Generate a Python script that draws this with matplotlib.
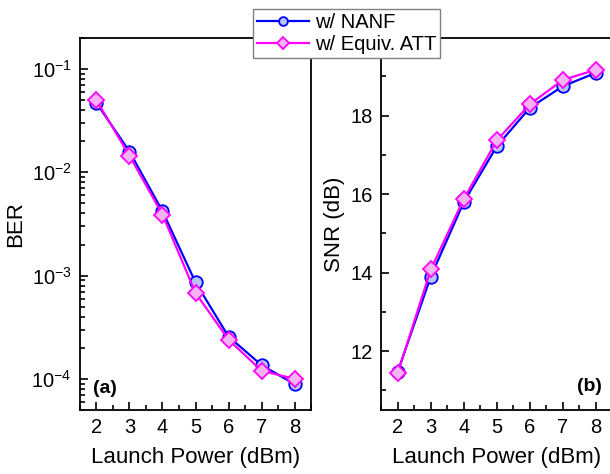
import matplotlib
matplotlib.use("Agg")
import matplotlib.pyplot as plt
from matplotlib.ticker import MultipleLocator, LogLocator, NullFormatter

plt.rcParams['font.family'] = ['Liberation Sans', 'DejaVu Sans']
plt.rcParams['mathtext.fontset'] = 'custom'
plt.rcParams['mathtext.rm'] = 'Liberation Sans'

# Launch power sweep
power_dbm = [2, 3, 4, 5, 6, 7, 8]

# Bit error rate
ber_nanf = [0.047, 0.0159, 0.0042, 8.6e-4, 2.57e-4, 1.36e-4, 8.9e-5]
ber_att = [0.050, 0.0145, 0.0039, 6.8e-4, 2.4e-4, 1.2e-4, 1.0e-4]

# Signal-to-noise ratio (dB)
snr_nanf = [11.48, 13.90, 15.80, 17.22, 18.20, 18.75, 19.09]
snr_att = [11.44, 14.08, 15.88, 17.37, 18.29, 18.91, 19.17]

series_labels = ['w/ NANF', 'w/ Equiv. ATT']

blue = '#0000ff'
blue_face = '#b4c4f4'
magenta = '#ff00ff'
pink_face = '#f4b4f4'

fig = plt.figure(figsize=(6.10, 4.74), dpi=100)
ax1 = fig.add_axes([0.131, 0.135, 0.379, 0.785])
ax2 = fig.add_axes([0.625, 0.135, 0.379, 0.785])

line_kw = dict(linewidth=1.6)
nanf_kw = dict(color=blue, marker='o', markersize=9, markerfacecolor=blue_face,
               markeredgecolor=blue, markeredgewidth=1.3, **line_kw)
att_kw = dict(color=magenta, marker='D', markersize=8.5, markerfacecolor=pink_face,
              markeredgecolor=magenta, markeredgewidth=1.3, **line_kw)

h1, = ax1.plot(power_dbm, ber_nanf, label=series_labels[0], **nanf_kw)
h2, = ax1.plot(power_dbm, ber_att, label=series_labels[1], **att_kw)
ax1.set_yscale('log')
ax1.set_ylim(5e-5, 0.2)
ax1.yaxis.set_major_locator(LogLocator(base=10, numticks=10))
ax1.yaxis.set_minor_locator(LogLocator(base=10, subs=range(2, 10), numticks=50))
ax1.yaxis.set_minor_formatter(NullFormatter())
ax1.set_ylabel('BER', fontsize=16, labelpad=4)
ax1.text(0.055, 0.035, '(a)', transform=ax1.transAxes, fontsize=14, fontweight='bold',
         ha='left', va='bottom')

ax2.plot(power_dbm, snr_nanf, **nanf_kw)
ax2.plot(power_dbm, snr_att, **att_kw)
ax2.set_ylim(10.5, 19.98)
ax2.yaxis.set_major_locator(MultipleLocator(2))
ax2.yaxis.set_minor_locator(MultipleLocator(1))
ax2.set_ylabel('SNR (dB)', fontsize=16, labelpad=4)
ax2.text(0.955, 0.04, '(b)', transform=ax2.transAxes, fontsize=14, fontweight='bold',
         ha='right', va='bottom')

for ax in (ax1, ax2):
    ax.set_xlim(1.5, 8.5)
    ax.xaxis.set_major_locator(MultipleLocator(1))
    ax.xaxis.set_minor_locator(MultipleLocator(0.5))
    ax.set_xlabel('Launch Power (dBm)', fontsize=16, labelpad=7)
    ax.tick_params(which='both', direction='in', top=False, right=False,
                   labelsize=14.5, width=1.2)
    ax.tick_params(which='major', length=6, pad=6)
    ax.tick_params(which='minor', length=3.5)
    for sp in ax.spines.values():
        sp.set_linewidth(1.3)

leg = fig.legend(handles=[h1, h2], loc='upper left', bbox_to_anchor=(0.414, 0.981),
                 fontsize=14.5, frameon=True, fancybox=False, framealpha=1,
                 edgecolor='#808080', handlelength=2.6, handletextpad=0.3,
                 borderpad=0.2, labelspacing=0.15, borderaxespad=0,
                 markerscale=0.7)
leg.get_frame().set_linewidth(1.0)

fig.savefig('out.png', dpi=100)
